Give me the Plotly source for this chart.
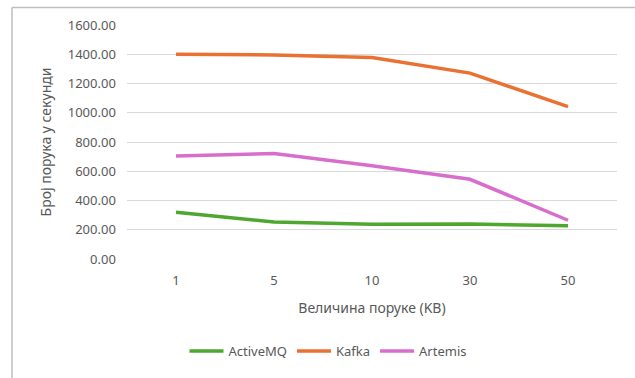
import plotly.graph_objects as go

# Message size in KB (category axis)
sizes = ["1", "5", "10", "30", "50"]

# Messages per second for each broker
activemq = [320, 253, 238, 240, 227]
kafka = [1400, 1395, 1378, 1271, 1042]
artemis = [704, 722, 638, 545, 265]

series = [
    ("ActiveMQ", activemq, "#4EA72E"),
    ("Kafka", kafka, "#E97132"),
    ("Artemis", artemis, "#D86ECC"),
]

font_family = "Noto Sans, Open Sans, sans-serif"
text_color = "#595959"
grid_color = "#D9D9D9"
frame_color = "#BFBFBF"

fig = go.Figure()
for name, values, color in series:
    fig.add_trace(go.Scatter(
        x=sizes, y=values, name=name, mode="lines",
        line=dict(color=color, width=3.5),
    ))

W, H = 635, 378
L, R, T, B = 127, 18, 25, 114
pw, ph = W - L - R, H - T - B

def px_x(x):
    return (x - L) / pw

def px_y(y):
    return (H - B - y) / ph

# Chart-area frame: top and left edges
fig.add_shape(type="line", xref="paper", yref="paper",
              x0=px_x(12), x1=px_x(640), y0=px_y(7), y1=px_y(7),
              line=dict(color=frame_color, width=1.5))
fig.add_shape(type="line", xref="paper", yref="paper",
              x0=px_x(12), x1=px_x(12), y0=px_y(7), y1=px_y(390),
              line=dict(color=frame_color, width=1.5))

fig.update_layout(
    width=W, height=H,
    margin=dict(l=L, r=R, t=T, b=B),
    paper_bgcolor="white", plot_bgcolor="white",
    font=dict(family=font_family, color=text_color, size=13),
    showlegend=True,
    legend=dict(orientation="h", x=px_x(328), xanchor="center",
                y=px_y(358), yanchor="middle",
                font=dict(size=13, color=text_color),
                itemwidth=34, tracegroupgap=0),
    xaxis=dict(
        type="category", range=[-0.5, 4.5],
        showgrid=False, zeroline=False, showline=False,
        ticks="", ticklabelstandoff=12,
        tickfont=dict(size=13, color=text_color),
        title=dict(text="Величина поруке (KB)", standoff=15,
                   font=dict(size=14, color=text_color)),
    ),
    yaxis=dict(
        range=[0, 1600], dtick=200, tickformat=".2f",
        showgrid=True, gridcolor=grid_color, gridwidth=1.3,
        zeroline=False, showline=False, ticks="",
        tickfont=dict(size=13, color=text_color),
        ticksuffix="   ",
        title=dict(text="Број порука у секунди", standoff=12,
                   font=dict(size=14, color=text_color)),
    ),
)

fig.write_html("out.html")
